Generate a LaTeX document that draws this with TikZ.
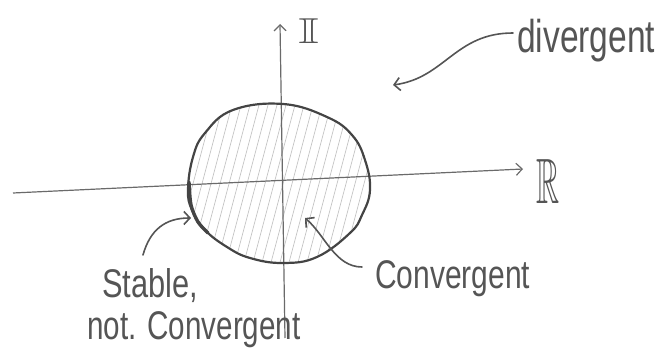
\documentclass[tikz,border=0pt]{standalone}
\usepackage{fontspec}
\usepackage{amssymb}
\usepackage{graphicx}
\setmainfont{Liberation Sans}
\usetikzlibrary{arrows.meta}
\definecolor{pencil}{HTML}{555555}
\definecolor{axisgray}{HTML}{6A6A6A}
\definecolor{rimgray}{HTML}{444444}
\definecolor{hatchgray}{HTML}{C4C4C4}
\newcommand{\hwtext}[3]{\scalebox{#2}[1]{\fontsize{#1}{#1}\selectfont #3}}
\def\rimpath{plot[smooth cycle, tension=0.7] coordinates {(283,104) (327,117) (352,135) (365,160) (370,190) (362,215) (350,233) (317,257) (283,263) (250,258) (227,247) (205,230) (192,210) (188,190) (193,157) (205,133) (233,110)}}
\begin{document}
\begin{tikzpicture}[x=1pt,y=-1pt,
  hw/.style={text=pencil, inner sep=0pt, anchor=base west},
  axisline/.style={draw=axisgray, line width=1.2pt, -{Straight Barb[length=6pt,width=12pt]}},
  pointer/.style={draw=pencil, line width=1.6pt, line cap=round, -{Straight Barb[length=6pt,width=13pt]}},
  hatchline/.style={draw=hatchgray, line width=0.7pt},
  rim/.style={draw=rimgray, line width=2.2pt}]
\useasboundingbox (0,0) rectangle (657,358);
% hatching
\begin{scope}
  \clip \rimpath;
  \foreach \x in {130,139,...,400} {
    \draw[hatchline] (\x,285) -- ++(52,-195);
  }
\end{scope}
% axes
\coordinate (xl) at (13,193);
\coordinate (xr) at (523,169);
\coordinate (yb) at (285,338);
\coordinate (yt) at (280,24);
\draw[axisline] (xl) -- (xr);
\draw[axisline] (yb) -- (yt);
\node[text=pencil, inner sep=0pt] (Rlab) at (548,181) {\scalebox{0.5}[1]{\fontsize{64}{64}\selectfont$\mathbb{R}$}};
\node[text=pencil, inner sep=0pt] (Ilab) at (309,31) {\scalebox{1.5}[1]{\fontsize{36}{36}\selectfont$\mathbb{I}$}};
% disc
\draw[rim] \rimpath;
\draw[rim, line width=3.4pt, line cap=round] plot[smooth] coordinates {(189,182) (191,205) (198,222) (208,233)};
% labels
\node[hw] (div) at (517,53) {\hwtext{46}{0.73}{divergent}};
\node[hw] (conv) at (375,289) {\hwtext{40}{0.75}{Convergent}};
\node[hw] (stab) at (102,298) {\hwtext{40}{0.77}{Stable,}};
\node[hw] (notc) at (87,340) {\hwtext{40}{0.74}{not. Convergent}};
% pointers
\coordinate (divtip) at (393,85);
\coordinate (convtip) at (305,218);
\coordinate (stabtip) at (191,218);
\draw[pointer] ([xshift=-4pt,yshift=20pt]div.base west) .. controls (455,33) and (445,78) .. (divtip);
\draw[pointer] ([xshift=-13pt,yshift=22pt]conv.base west) .. controls (335,267) and (325,235) .. (convtip);
\draw[pointer] ([xshift=41pt,yshift=43pt]stab.base west) .. controls (150,230) and (165,218) .. (stabtip);
\end{tikzpicture}
\end{document}
